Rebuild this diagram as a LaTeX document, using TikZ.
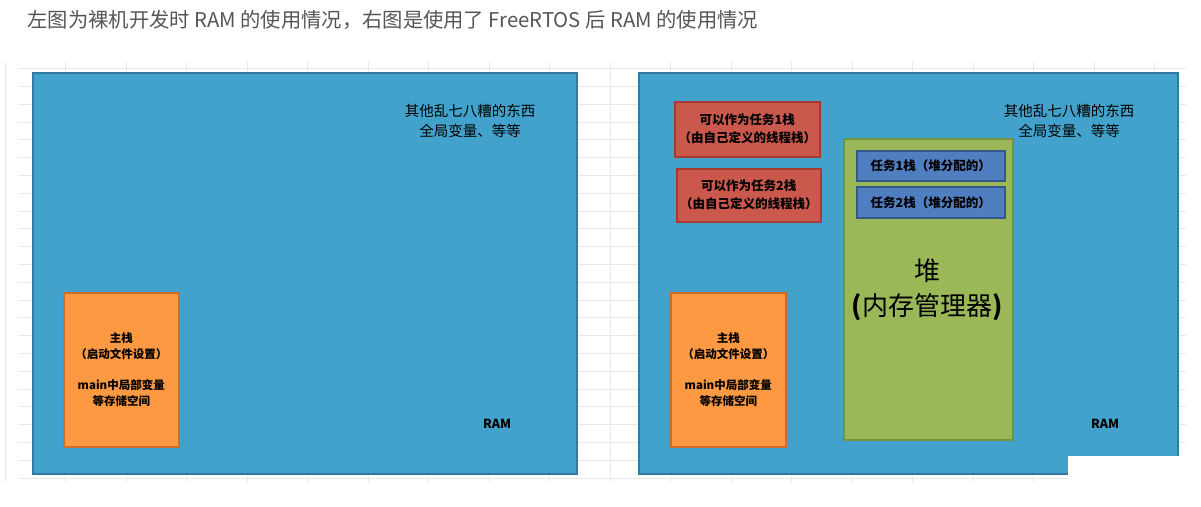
\documentclass[tikz,border=0pt]{standalone}
\usepackage{fontspec}
\setmainfont{Noto Sans CJK SC}
\definecolor{ramblue}{RGB}{67,162,203}
\definecolor{ramedge}{RGB}{52,122,160}
\definecolor{stackorange}{RGB}{253,153,66}
\definecolor{orangeedge}{RGB}{205,110,40}
\definecolor{threadred}{RGB}{203,88,76}
\definecolor{rededge}{RGB}{165,60,52}
\definecolor{heapgreen}{RGB}{155,184,89}
\definecolor{greenedge}{RGB}{118,146,60}
\definecolor{taskblue}{RGB}{79,127,192}
\definecolor{blueedge}{RGB}{52,88,135}
\definecolor{gridgray}{RGB}{232,232,232}
\definecolor{titlegray}{RGB}{85,85,85}

\begin{document}
\begin{tikzpicture}[x=1pt,y=-1pt,
    box/.style={anchor=north west, inner sep=0pt, line width=1.5pt, align=center,
        font=\fontsize{11.5}{16}\selectfont\bfseries},
    ram/.style={box, draw=ramedge, fill=ramblue},
    mainstack/.style={box, draw=orangeedge, fill=stackorange},
    threadstack/.style={box, draw=rededge, fill=threadred, font=\fontsize{12.5}{18}\selectfont\bfseries},
    heapbox/.style={box, draw=greenedge, fill=heapgreen},
    taskstack/.style={box, draw=blueedge, fill=taskblue, font=\fontsize{12.5}{16}\selectfont\bfseries},
    other/.style={align=center, font=\fontsize{14.5}{20}\selectfont},
    ramlabel/.style={font=\fontsize{12.5}{15}\selectfont\bfseries}]
    \useasboundingbox (0,0) rectangle (1201,506);
    \node[anchor=west, text=titlegray, font=\fontsize{20.3}{24}\selectfont] (title) at (24,20)
        {左图为裸机开发时 RAM 的使用情况，右图是使用了 FreeRTOS 后 RAM 的使用情况};
    % spreadsheet grid behind
    \foreach \i in {0,...,19}
        \draw[gridgray, line width=0.7pt] (5+60.5*\i,62) -- (5+60.5*\i,482);
    \foreach \j in {0,...,23}
        \draw[gridgray, line width=0.7pt] (18,68.5+17.8*\j) -- (1186,68.5+17.8*\j);

    % bare metal
    \node[ram, minimum width=544pt, minimum height=401pt] (ramL) at (32,72) {};
    \node[other] (otherL) at (470,121) {其他乱七八糟的东西\\全局变量、等等};
    \node[ramlabel] (labelL) at (497,424) {RAM};
    \node[mainstack, minimum width=115pt, minimum height=154pt] (mainL) at (63,292)
        {主栈\\（启动文件设置）\\[15pt]main中局部变量\\等存储空间};

    % with FreeRTOS
    \node[ram, minimum width=539pt, minimum height=401pt] (ramR) at (638,72) {};
    \node[other] (otherR) at (1069,121) {其他乱七八糟的东西\\全局变量、等等};
    \node[ramlabel] (labelR) at (1105,424) {RAM};
    \node[threadstack, minimum width=145pt, minimum height=55pt] (tstack1) at (674,101)
        {可以作为任务1栈\\（由自己定义的线程栈）};
    \node[threadstack, minimum width=144pt, minimum height=53pt] (tstack2) at (676,168)
        {可以作为任务2栈\\（由自己定义的线程栈）};
    \node[heapbox, minimum width=169pt, minimum height=301pt] (heap) at (843,138) {};
    \node[taskstack, minimum width=148pt, minimum height=30pt] (task1) at (856,150)
        {任务1栈（堆分配的）};
    \node[taskstack, minimum width=148pt, minimum height=31pt] (task2) at (856,186)
        {任务2栈（堆分配的）};
    \node[align=center, font=\fontsize{26}{35}\selectfont] (heapname) at (927,290)
        {堆\\\textbf{(}内存管理器\textbf{)}};
    \node[mainstack, minimum width=115pt, minimum height=154pt] (mainR) at (670,292)
        {主栈\\（启动文件设置）\\[15pt]main中局部变量\\等存储空间};
    \fill[white] (1068,456) rectangle (1201,506);
\end{tikzpicture}
\end{document}
